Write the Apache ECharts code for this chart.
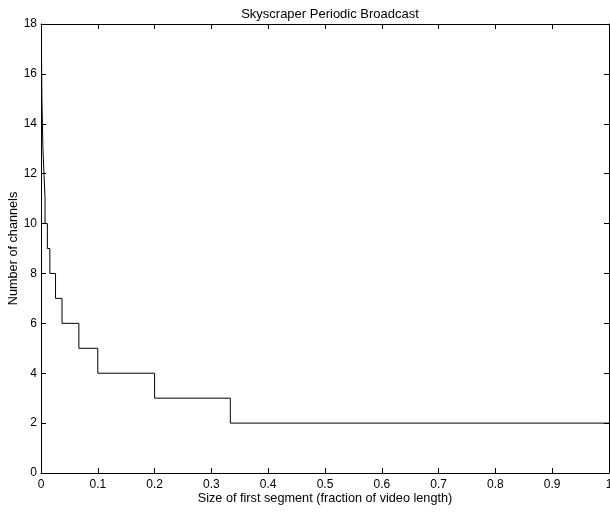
<!DOCTYPE html>
<html>
<head>
<meta charset="utf-8">
<script src="https://cdn.jsdelivr.net/npm/echarts@6/dist/echarts.min.js"></script>
<style>
  html, body { margin: 0; padding: 0; background: #fff; }
  #chart { width: 610px; height: 514px; }
</style>
</head>
<body>
<div id="chart"></div>
<script>
// Size of first segment (fraction of video length) where each channel count takes over
const segmentSize = [1, 0.3333, 0.2, 0.1, 0.0667, 0.037, 0.0256, 0.0156, 0.0112,
                     0.0071, 0.0052, 0.0034, 0.0025, 0.0016, 0.0012, 0.0008, 0.0006];
// Number of channels needed (stairs step up at each segment size above)
const channels = [2, 3, 4, 5, 6, 7, 8, 9, 10, 11, 12, 13, 14, 15, 16, 17, 17];

const xTicks = [0, 0.1, 0.2, 0.3, 0.4, 0.5, 0.6, 0.7, 0.8, 0.9, 1];
const yTicks = [0, 2, 4, 6, 8, 10, 12, 14, 16, 18];

const points = segmentSize.map((x, i) => [x, channels[i]]);

const font = 'Liberation Sans, Arial, Helvetica, sans-serif';
const axisLine = { show: true, onZero: false, lineStyle: { color: '#000', width: 1 } };
const axisTick = { show: true, inside: true, length: 5, lineStyle: { color: '#000', width: 1 } };
const tickStyle = { color: '#000', fontSize: 12, fontFamily: font };
const nameStyle = { color: '#000', fontSize: 12.7, fontFamily: font };

const chart = echarts.init(document.getElementById('chart'), null, { renderer: 'canvas' });
chart.setOption({
  animation: false,
  backgroundColor: '#fff',
  title: {
    text: 'Skyscraper Periodic Broadcast',
    left: 325,
    top: 3,
    textAlign: 'center',
    textStyle: { color: '#000', fontSize: 13, fontWeight: 'normal', fontFamily: font }
  },
  grid: { left: 41, right: 1, top: 24, bottom: 41, containLabel: false, outerBoundsMode: 'none' },
  xAxis: [
    {
      type: 'value', position: 'bottom',
      min: xTicks[0], max: xTicks[xTicks.length - 1], interval: 0.1,
      name: 'Size of first segment (fraction of video length)',
      nameLocation: 'middle', nameGap: 19, nameMoveOverlap: false,
      nameTextStyle: nameStyle,
      axisLine, axisTick,
      axisLabel: { ...tickStyle, margin: 6, formatter: v => String(+v.toFixed(1)) },
      splitLine: { show: false }
    },
    {
      type: 'value', position: 'top',
      min: xTicks[0], max: xTicks[xTicks.length - 1], interval: 0.1,
      axisLine, axisTick,
      axisLabel: { show: false }, splitLine: { show: false }
    }
  ],
  yAxis: [
    {
      type: 'value', position: 'left',
      min: yTicks[0], max: yTicks[yTicks.length - 1], interval: 2,
      name: 'Number of channels',
      nameLocation: 'middle', nameGap: 21, nameMoveOverlap: false,
      nameTextStyle: nameStyle,
      axisLine, axisTick,
      axisLabel: { ...tickStyle, margin: 4 },
      splitLine: { show: false }
    },
    {
      type: 'value', position: 'right',
      min: yTicks[0], max: yTicks[yTicks.length - 1], interval: 2,
      axisLine, axisTick,
      axisLabel: { show: false }, splitLine: { show: false }
    }
  ],
  series: [{
    type: 'line',
    xAxisIndex: 0, yAxisIndex: 0,
    step: 'end',
    data: points,
    showSymbol: false,
    lineStyle: { color: '#000', width: 1 }
  }]
});
</script>
</body>
</html>
